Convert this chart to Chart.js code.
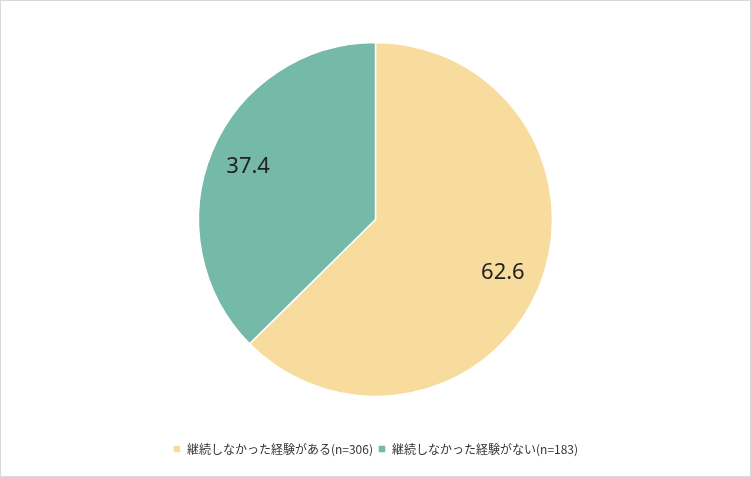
<!DOCTYPE html>
<html>
<head>
<meta charset="utf-8">
<script src="https://cdn.jsdelivr.net/npm/chart.js@4"></script>
<style>
  html, body { margin: 0; padding: 0; background: #fff; }
  #wrap { width: 751px; height: 477px; box-sizing: border-box; border: 1px solid #d9d9d9; }
</style>
</head>
<body>
<div id="wrap"><canvas id="graph--pie" width="749" height="475"></canvas></div>
<script>
const LABELS = ["継続しなかった経験がある(n=306)", "継続しなかった経験がない(n=183)"];
const VALUES = [62.6, 37.4];
const COLORS = ["#F7DC9E", "#75B9A8"];

// draws the value inside each slice
const sliceLabels = {
  id: "sliceLabels",
  afterDatasetsDraw(chart) {
    const ctx = chart.ctx;
    const meta = chart.getDatasetMeta(0);
    ctx.save();
    ctx.font = "22px 'Noto Sans', 'DejaVu Sans', sans-serif";
    ctx.fillStyle = "#222";
    ctx.textAlign = "center";
    ctx.textBaseline = "middle";
    meta.data.forEach((arc, i) => {
      const mid = (arc.startAngle + arc.endAngle) / 2;
      const r = arc.outerRadius * 0.78;
      ctx.fillText(VALUES[i].toFixed(1), arc.x + Math.cos(mid) * r, arc.y + Math.sin(mid) * r);
    });
    ctx.restore();
  }
};

const PIE = document.getElementById("graph--pie");

let pieChart = new Chart(PIE, {
  type: "pie",
  data: {
    labels: LABELS,
    datasets: [{
      data: VALUES,
      backgroundColor: COLORS,
      borderColor: "#fff",
      borderWidth: 1.5,
      radius: 177
    }]
  },
  options: {
    responsive: false,
    animation: false,
    layout: { padding: { top: 0, bottom: 11 } },
    plugins: {
      tooltip: { enabled: false },
      legend: {
        position: "bottom",
        labels: {
          boxWidth: 8,
          boxHeight: 8,
          padding: 5,
          color: "#333",
          font: { size: 12, family: "'Noto Sans CJK JP', sans-serif" }
        }
      }
    }
  },
  plugins: [sliceLabels]
});
</script>
</body>
</html>
